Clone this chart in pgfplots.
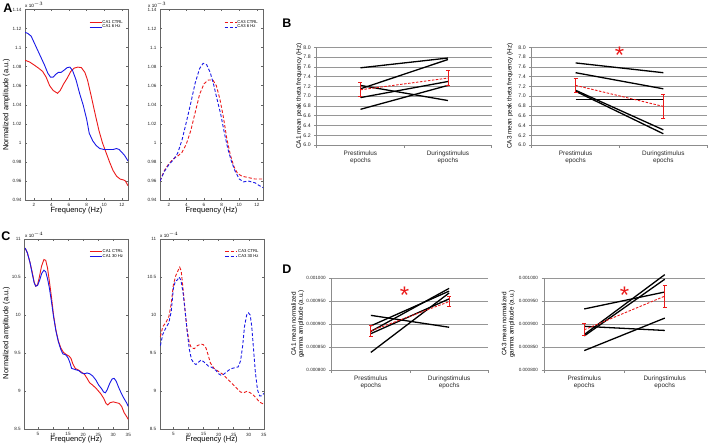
\documentclass[border=0pt]{standalone}
\usepackage{pgfplots}
\pgfplotsset{compat=1.18}
\usepackage{fontspec}
\setmainfont{Liberation Sans}
\newcommand\fT{\fontsize{4.6}{5}\selectfont}
\newcommand\fB{\fontsize{5.2}{5.6}\selectfont}
\newcommand\fL{\fontsize{4.2}{4.6}\selectfont}
\newcommand\fX{\fontsize{7.5}{8}\selectfont}
\newcommand\fC{\fontsize{6.4}{6.9}\selectfont}
\newcommand\fY{\fontsize{6.4}{7.2}\selectfont}
\newcommand\fE{\fontsize{4.6}{5}\selectfont}
\newcommand\fP{\bfseries\fontsize{12.5}{13}\selectfont}
\definecolor{mred}{RGB}{235,25,25}
\definecolor{mblue}{RGB}{25,25,230}
\definecolor{xgrid}{RGB}{150,150,150}
\pgfplotsset{
 mat/.style={scale only axis, anchor=south west,
  /pgf/number format/assume math mode=true,
  axis line style={black!60, line width=0.45pt},
  every tick/.style={black!60, line width=0.4pt},
  major tick length=2pt, tick align=inside,
  tick label style={font=\fT, text=black!85},
  legend style={draw=none, fill=none, font=\fL, at={(0.96,0.95)}, anchor=north east,
     inner sep=0.5pt, row sep=-0.5pt, nodes={inner sep=0.4pt}},
  legend cell align=left,
  legend image code/.code={\draw[##1] (0pt,0pt) -- (12pt,0pt);},
 },
 asp/.style={mat, xmin=1, xmax=12.7, ymin=0.94, ymax=1.14, xtick={2,4,6,8,10,12},
   ytick={0.94,0.96,0.98,1,1.02,1.04,1.06,1.08,1.1,1.12,1.14}, width=103pt, height=190.5pt},
 csp/.style={mat, xmin=0.5, xmax=35, ymin=8.5, ymax=11, xtick={5,10,15,20,25,30,35},
   ytick={8.5,9,9.5,10,10.5,11}, width=104pt, height=190.3pt},
 xl/.style={scale only axis, anchor=south west, clip=false,
  /pgf/number format/assume math mode=true,
  xmin=0, xmax=2, xtick={0.5,1.5}, xticklabels={Prestimulus\\epochs, Duringstimulus\\epochs},
  xticklabel style={font=\fC, align=center, text=black!85},
  minor xtick={0,1,2},
  major x tick style={draw=none},
  axis x line*=bottom, axis y line*=left,
  axis line style={-, black!45, line width=0.5pt},
  every tick/.style={black!45, line width=0.5pt},
  tick align=outside, major tick length=2.5pt, minor tick length=3pt,
  ymajorgrids, grid style={xgrid, line width=0.5pt},
  yticklabel style={font=\fB, text=black!85},
 },
 sline/.style={black, line width=1.3pt, mark=none},
 mline/.style={color=mred, line width=0.9pt, dash pattern=on 2.5pt off 1.5pt, mark=none,
  error bars/y dir=both, error bars/y explicit,
  error bars/error mark=-,
  error bars/error bar style={solid, line width=0.8pt, color=mred},
  error bars/error mark options={rotate=90, solid, color=mred, line width=0.8pt, mark size=2pt}},
 ctl/.style={mred, line width=0.9pt, mark=none},
 stm/.style={mblue, line width=0.9pt, mark=none},
 dsh/.style={dash pattern=on 3.2pt off 2pt},
}
\begin{document}
\begin{tikzpicture}
\useasboundingbox (0,0) rectangle (709pt,446pt);

% ---------------- A left
\begin{axis}[asp, at={(25pt,246pt)}]
\addplot[ctl] coordinates {(1.0,1.0867) (1.5,1.085) (2.0,1.082) (2.6,1.078) (3.0,1.075) (3.4,1.069) (3.8,1.06) (4.2,1.055) (4.7,1.052) (5.0,1.055) (5.4,1.062) (5.8,1.068) (6.2,1.075) (6.6,1.0785) (7.0,1.0795) (7.4,1.079) (7.8,1.074) (8.1,1.066) (8.5,1.05) (9.0,1.029) (9.4,1.013) (9.8,1.0) (10.2,0.99) (10.6,0.98) (11.0,0.971) (11.4,0.965) (11.8,0.962) (12.2,0.961) (12.4,0.960) (12.7,0.955)};
\addlegendentry{CA1 CTRL}
\addplot[stm] coordinates {(1.0,1.116) (1.3,1.115) (1.7,1.112) (2.0,1.106) (2.4,1.098) (2.8,1.09) (3.2,1.082) (3.6,1.073) (3.9,1.069) (4.2,1.069) (4.5,1.072) (4.8,1.074) (5.1,1.074) (5.4,1.076) (5.8,1.079) (6.1,1.0795) (6.4,1.076) (6.8,1.066) (7.2,1.052) (7.6,1.04) (8.0,1.025) (8.3,1.01) (8.7,1.002) (9.1,0.997) (9.5,0.994) (10.0,0.993) (10.5,0.993) (11.0,0.993) (11.4,0.994) (11.7,0.993) (12.0,0.990) (12.3,0.987) (12.7,0.981)};
\addlegendentry{CA1 6 Hz}
\end{axis}

% ---------------- A right
\begin{axis}[asp, at={(160pt,246pt)}]
\addplot[ctl, dsh] coordinates {(1.0,0.96) (1.5,0.971) (2.0,0.978) (2.5,0.983) (3.0,0.986) (3.5,0.99) (4.0,0.999) (4.5,1.013) (5.0,1.032) (5.5,1.051) (6.0,1.062) (6.5,1.066) (7.0,1.066) (7.4,1.06) (7.8,1.046) (8.2,1.027) (8.6,1.004) (9.0,0.987) (9.4,0.975) (9.8,0.968) (10.3,0.965) (10.8,0.964) (11.3,0.963) (11.8,0.962) (12.3,0.962) (12.7,0.962)};
\addlegendentry{CA3 CTRL}
\addplot[stm, dsh] coordinates {(1.0,0.96) (1.5,0.970) (2.0,0.977) (2.5,0.982) (3.0,0.989) (3.5,1.003) (4.0,1.022) (4.5,1.042) (5.0,1.063) (5.5,1.078) (5.9,1.0835) (6.3,1.082) (6.7,1.074) (7.1,1.061) (7.5,1.045) (7.9,1.03) (8.3,1.011) (8.7,0.994) (9.1,0.981) (9.5,0.971) (10.0,0.962) (10.5,0.959) (11.0,0.96) (11.4,0.959) (11.8,0.958) (12.3,0.955) (12.7,0.953)};
\addlegendentry{CA3 6 Hz}
\end{axis}

% ---------------- C left
\begin{axis}[csp, at={(24.3pt,16.7pt)}]
\addplot[ctl] coordinates {(0.8,10.88) (1.5,10.82) (2.4,10.69) (3.2,10.55) (3.8,10.43) (4.3,10.38) (4.9,10.40) (5.5,10.50) (6.2,10.64) (7.0,10.73) (7.6,10.72) (8.2,10.62) (8.8,10.45) (9.5,10.24) (10.2,10.0) (11.0,9.80) (11.8,9.66) (12.6,9.57) (13.5,9.51) (14.5,9.48) (15.4,9.46) (16.0,9.43) (16.6,9.36) (17.4,9.30) (18.4,9.28) (19.5,9.25) (20.5,9.22) (21.3,9.17) (22.2,9.11) (23.2,9.08) (24.5,9.03) (25.8,8.97) (26.8,8.91) (27.6,8.84) (28.2,8.82) (29.0,8.85) (30.0,8.86) (31.0,8.85) (32.0,8.84) (32.8,8.80) (33.6,8.72) (34.4,8.67) (35.0,8.63)};
\addlegendentry{CA1 CTRL}
\addplot[stm] coordinates {(0.8,10.88) (1.5,10.82) (2.4,10.69) (3.2,10.53) (3.8,10.42) (4.3,10.38) (4.9,10.39) (5.6,10.46) (6.3,10.55) (7.0,10.59) (7.6,10.57) (8.2,10.48) (8.8,10.36) (9.5,10.18) (10.2,9.98) (11.0,9.79) (11.8,9.65) (12.6,9.55) (13.3,9.49) (14.2,9.48) (15.0,9.44) (15.6,9.38) (16.2,9.30) (17.0,9.29) (17.8,9.28) (18.6,9.27) (19.5,9.24) (20.5,9.23) (21.3,9.24) (22.2,9.23) (23.2,9.20) (24.2,9.15) (25.2,9.08) (26.2,9.03) (26.8,8.99) (27.4,8.98) (28.0,9.02) (28.8,9.10) (29.6,9.16) (30.3,9.17) (31.0,9.13) (31.8,9.05) (32.6,8.98) (33.5,8.91) (34.4,8.85) (35.0,8.80)};
\addlegendentry{CA1 30 Hz}
\end{axis}

% ---------------- C right
\begin{axis}[csp, at={(159.8pt,16.7pt)}]
\addplot[ctl, dsh] coordinates {(0.7,9.72) (1.5,9.85) (2.5,9.90) (3.5,9.98) (4.3,10.15) (5.0,10.40) (5.8,10.52) (6.5,10.58) (7.1,10.63) (7.6,10.58) (8.2,10.35) (8.8,10.1) (9.5,9.82) (10.3,9.63) (11.0,9.57) (12.0,9.56) (13.0,9.60) (14.2,9.62) (15.0,9.61) (15.8,9.57) (16.5,9.48) (17.3,9.37) (18.5,9.30) (20.0,9.26) (21.5,9.22) (23.0,9.16) (24.5,9.10) (26.0,9.04) (27.3,8.99) (28.3,8.98) (29.5,9.00) (30.5,8.98) (31.5,8.95) (32.5,8.91) (33.5,8.86) (35.0,8.83)};
\addlegendentry{CA3 CTRL}
\addplot[stm, dsh] coordinates {(0.7,9.60) (1.5,9.75) (2.5,9.83) (3.5,9.90) (4.3,10.05) (5.0,10.35) (5.7,10.45) (6.3,10.46) (6.9,10.50) (7.5,10.46) (8.2,10.30) (8.9,10.05) (9.6,9.78) (10.3,9.55) (11.0,9.42) (11.8,9.37) (12.5,9.35) (13.3,9.38) (14.2,9.41) (15.0,9.39) (15.8,9.36) (16.6,9.33) (17.4,9.32) (18.3,9.30) (19.2,9.27) (20.0,9.23) (20.8,9.21) (21.6,9.22) (22.5,9.25) (23.5,9.28) (24.5,9.30) (25.5,9.31) (26.5,9.32) (27.3,9.40) (28.0,9.60) (28.6,9.85) (29.3,10.00) (29.9,10.03) (30.5,10.00) (31.0,9.85) (31.6,9.55) (32.2,9.25) (32.9,9.02) (33.6,8.94) (34.3,8.94) (35.0,8.97)};
\addlegendentry{CA3 30 Hz}
\end{axis}

% ---------------- B left
\begin{axis}[xl, at={(316.7pt,301pt)}, width=175pt, height=97.7pt, ymin=6, ymax=8,
  ytick={6,6.2,6.4,6.6,6.8,7,7.2,7.4,7.6,7.8,8},
  yticklabel style={/pgf/number format/.cd, fixed, fixed zerofill, precision=1}]
\addplot[sline] coordinates {(0.5,7.58) (1.5,7.78)};
\addplot[sline] coordinates {(0.5,7.15) (1.5,7.75)};
\addplot[sline] coordinates {(0.5,7.22) (1.5,6.91)};
\addplot[sline] coordinates {(0.5,6.97) (1.5,7.30)};
\addplot[sline] coordinates {(0.5,6.73) (1.5,7.22)};
\addplot[mline] coordinates {(0.5,7.13) +- (0,0.145) (1.5,7.37) +- (0,0.15)};
\end{axis}

% ---------------- B right
\begin{axis}[xl, at={(531.7pt,301pt)}, width=175.5pt, height=97.7pt, ymin=6, ymax=8,
  ytick={6,6.2,6.4,6.6,6.8,7,7.2,7.4,7.6,7.8,8},
  yticklabel style={/pgf/number format/.cd, fixed, fixed zerofill, precision=1}]
\addplot[sline] coordinates {(0.5,7.68) (1.5,7.48)};
\addplot[sline] coordinates {(0.5,7.48) (1.5,7.15)};
\addplot[sline] coordinates {(0.5,6.93) (1.5,6.93)};
\addplot[sline] coordinates {(0.5,7.12) (1.5,6.31)};
\addplot[sline] coordinates {(0.5,7.10) (1.5,6.23)};
\addplot[mline] coordinates {(0.5,7.22) +- (0,0.14) (1.5,6.79) +- (0,0.24)};
\node[text=mred, font=\fontsize{24}{24}\selectfont] at (axis cs:1,7.83) {*};
\end{axis}

% ---------------- D left
\begin{axis}[xl, at={(331.7pt,76.2pt)}, width=156.6pt, height=91.5pt, ymin=800, ymax=1000,
  ytick={800,850,900,950,1000},
  yticklabels={0.000800,0.000850,0.000900,0.000950,0.001000},
  yticklabel style={font=\fT}]
\addplot[sline] coordinates {(0.5,919) (1.5,893)};
\addplot[sline] coordinates {(0.5,896) (1.5,972)};
\addplot[sline] coordinates {(0.5,884) (1.5,978)};
\addplot[sline] coordinates {(0.5,879) (1.5,955)};
\addplot[sline] coordinates {(0.5,838) (1.5,968)};
\addplot[mline] coordinates {(0.5,885) +- (0,12) (1.5,949) +- (0,11)};
\node[text=mred, font=\fontsize{24}{24}\selectfont] at (axis cs:0.93,962) {*};
\end{axis}

% ---------------- D right
\begin{axis}[xl, at={(544pt,76.2pt)}, width=161pt, height=91.5pt, ymin=800, ymax=1000,
  ytick={800,850,900,950,1000},
  yticklabels={0.000800,0.000850,0.000900,0.000950,0.001000},
  yticklabel style={font=\fT}]
\addplot[sline] coordinates {(0.5,933) (1.5,970)};
\addplot[sline] coordinates {(0.5,895) (1.5,886)};
\addplot[sline] coordinates {(0.5,877) (1.5,1008)};
\addplot[sline] coordinates {(0.5,874) (1.5,998)};
\addplot[sline] coordinates {(0.5,842) (1.5,913)};
\addplot[mline] coordinates {(0.5,887.5) +- (0,13) (1.5,961) +- (0,24)};
\node[text=mred, font=\fontsize{24}{24}\selectfont] at (axis cs:1,962) {*};
\end{axis}

% ---------------- text
\node[font=\fP] at (8pt,438pt) {A};
\node[font=\fP] at (287pt,423pt) {B};
\node[font=\fP] at (6pt,209.3pt) {C};
\node[font=\fP] at (287pt,177pt) {D};
\node[font=\fX] at (76.5pt,235pt) {Frequency (Hz)};
\node[font=\fX] at (211.5pt,235pt) {Frequency (Hz)};
\node[font=\fX] at (76.3pt,6pt) {Frequency (Hz)};
\node[font=\fX] at (211.8pt,6pt) {Frequency (Hz)};
\node[font=\fX, rotate=90] at (6.5pt,341.2pt) {Normalized amplitude (a.u.)};
\node[font=\fX, rotate=90] at (6.5pt,113pt) {Normalized amplitude (a.u.)};
\node[font=\fY, rotate=90] at (299.3pt,350pt) {CA1 mean peak theta frequency (Hz)};
\node[font=\fY, rotate=90] at (510pt,350pt) {CA3 mean peak theta frequency (Hz)};
\node[font=\fY, rotate=90, align=center] at (297.7pt,122pt) {CA1 mean normalized\\gamma amplitude (a.u.)};
\node[font=\fY, rotate=90, align=center] at (508.3pt,122pt) {CA3 mean normalized\\gamma amplitude (a.u.)};
\node[font=\fE, anchor=west, inner sep=0pt] at (25pt,441pt) {x 10$^{-3}$};
\node[font=\fE, anchor=west, inner sep=0pt] at (148pt,441pt) {x 10$^{-3}$};
\node[font=\fE, anchor=west, inner sep=0pt] at (25pt,211pt) {x 10$^{-4}$};
\node[font=\fE, anchor=west, inner sep=0pt] at (160pt,211pt) {x 10$^{-4}$};
\end{tikzpicture}
\end{document}
